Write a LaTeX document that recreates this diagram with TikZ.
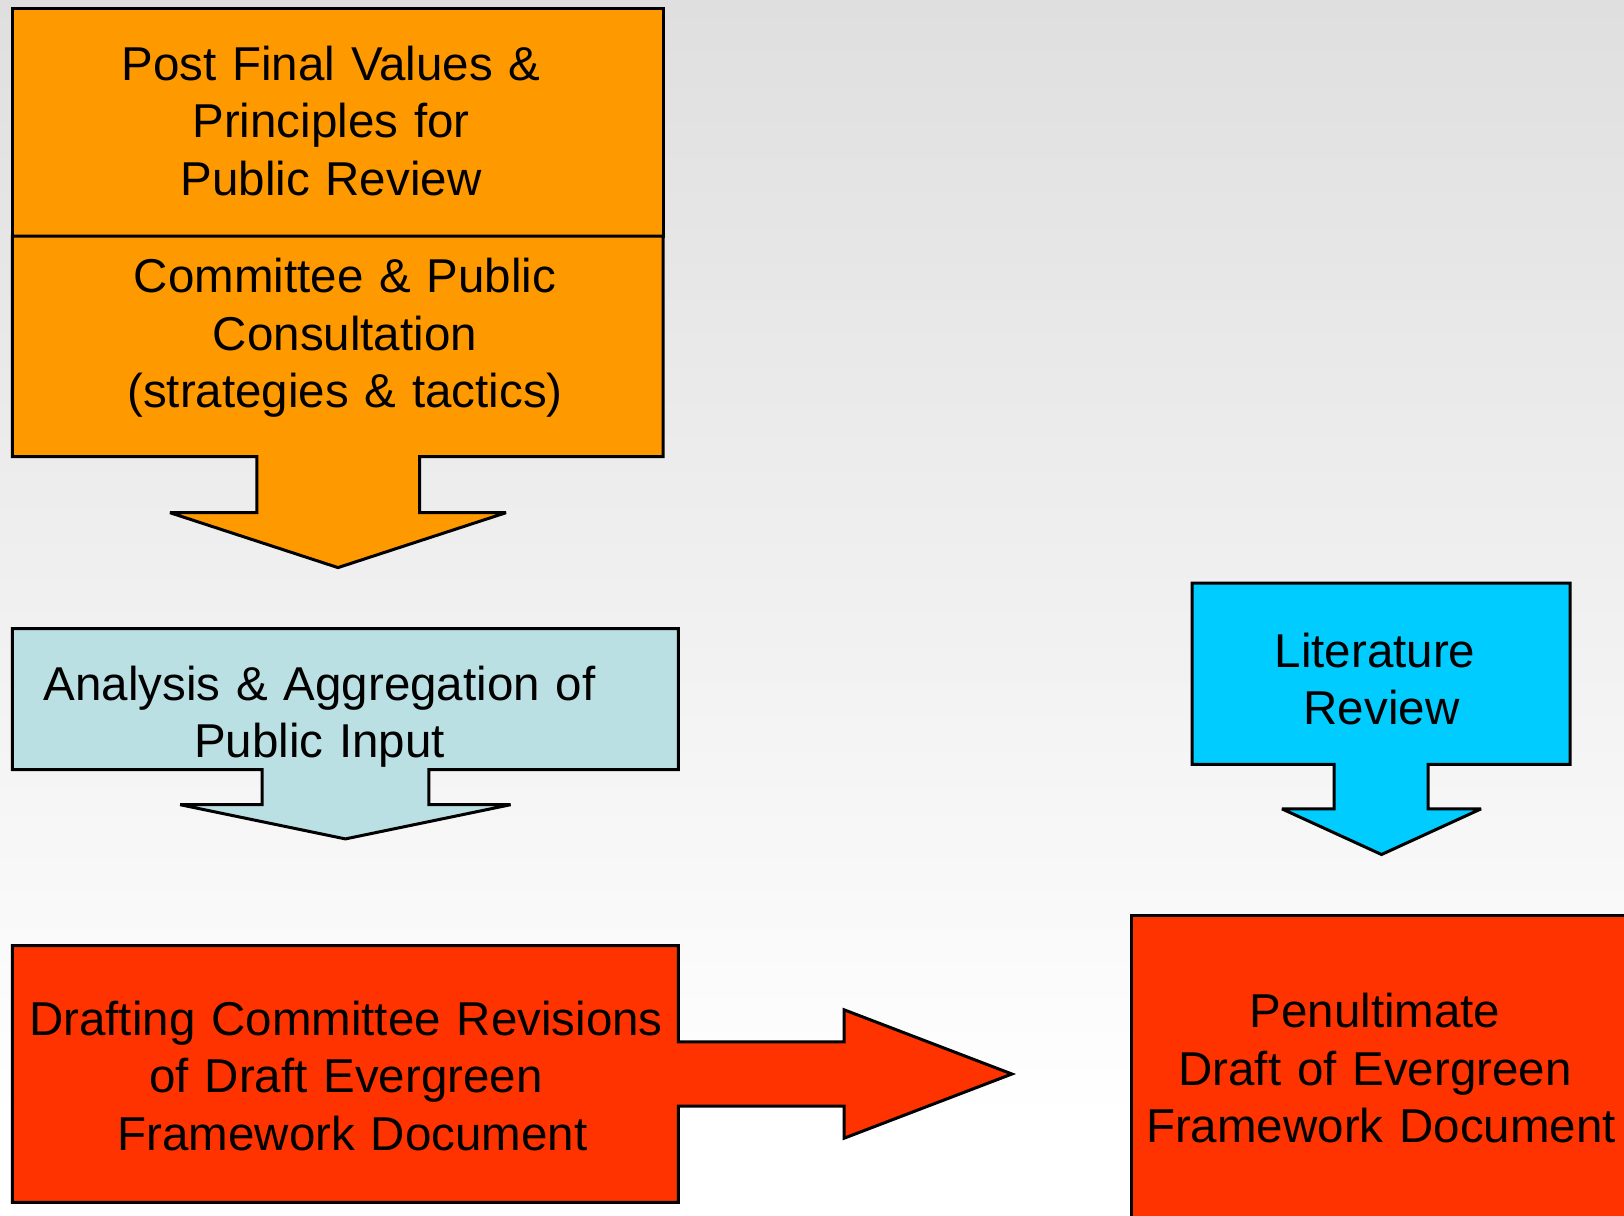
\documentclass[tikz,border=0pt]{standalone}
\usepackage{fontspec}
\setmainfont{Liberation Sans}
\definecolor{bgtop}{RGB}{223,223,223}
\definecolor{orangefill}{RGB}{255,153,0}
\definecolor{paleblue}{RGB}{187,224,227}
\definecolor{cyanfill}{RGB}{0,204,255}
\definecolor{redfill}{RGB}{255,51,0}
\newcommand\lbfont{\fontsize{47.5}{57.5}\selectfont}
\tikzset{
  outline/.style={draw=black, line width=3pt, line join=miter},
  downarrow/.style={outline, miter limit=2},
  lbl/.style={font=\lbfont, align=center, text width=780pt, inner sep=0pt, anchor=base, text=black}
}
\begin{document}
\begin{tikzpicture}[x=1pt,y=-1pt]
\useasboundingbox (0,0) rectangle (1624,1215);
\begin{scope}
\clip (0,0) rectangle (1624,1215);
% background
\fill[white] (0,0) rectangle (1624,1215);
\fill[top color=bgtop, bottom color=white] (0,0) rectangle (1624,1120);
% box 1
\path[outline, fill=orangefill] (12.4,8.3) rectangle (663,236);
% box 2 with down arrow
\path[downarrow, fill=orangefill] (12.4,236) -- (663,236) -- (663,456.7) -- (419.5,456.7) -- (419.5,512.7) -- (506,512.7) -- (338,567.6) -- (170,512.7) -- (256.9,512.7) -- (256.9,456.7) -- (12.4,456.7) -- cycle;
% box 3 with down arrow
\path[downarrow, fill=paleblue] (12.4,628.7) -- (678.4,628.7) -- (678.4,769.5) -- (428.8,769.5) -- (428.8,804.7) -- (510.6,804.7) -- (345.4,838.9) -- (180.2,804.7) -- (262,804.7) -- (262,769.5) -- (12.4,769.5) -- cycle;
% box 4 with down arrow
\path[downarrow, fill=cyanfill] (1192,583.1) -- (1570,583.1) -- (1570,764.3) -- (1428.2,764.3) -- (1428.2,808.9) -- (1481,808.9) -- (1381.5,854.5) -- (1282,808.9) -- (1334,808.9) -- (1334,764.3) -- (1192,764.3) -- cycle;
% box 5 with right arrow
\path[outline, fill=redfill] (12.4,945.6) -- (678.4,945.6) -- (678.4,1041.9) -- (844.1,1041.9) -- (844.1,1009.8) -- (1011.9,1074) -- (844.1,1138.2) -- (844.1,1106.1) -- (678.4,1106.1) -- (678.4,1202.4) -- (12.4,1202.4) -- cycle;
% box 6 (runs off the page)
\path[outline, fill=redfill] (1131,915.6) rectangle (1660,1260);
\end{scope}
% texts
\node[lbl] (t1) at (331,80.5) {Post Final Values \&\\Principles for\\Public Review};
\node[lbl] (t2) at (345,292.5) {Committee \& Public\\Consultation\\(strategies \& tactics)};
\node[lbl] (t3) at (319.5,700) {Analysis \& Aggregation of\\Public Input};
\node[lbl] (t4) at (1381.5,667) {Literature\kern13pt\\Review};
\node[lbl] (t5) at (346,1035) {Drafting Committee Revisions\\of Draft Evergreen\\\leavevmode\kern13pt Framework Document};
\node[lbl] (t6) at (1375,1027.5) {Penultimate\\Draft of Evergreen\\\leavevmode\kern12pt Framework Document};
\end{tikzpicture}
\end{document}
